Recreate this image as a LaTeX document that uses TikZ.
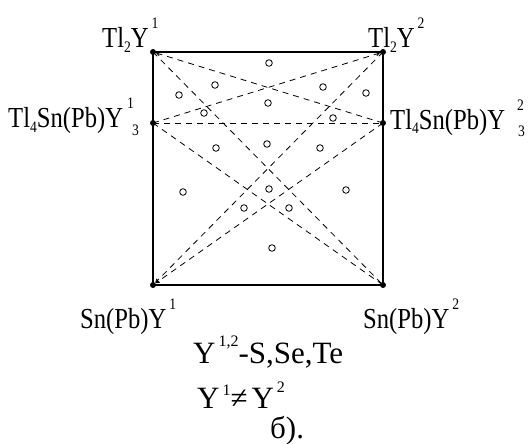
\documentclass[tikz,border=0pt]{standalone}
\usepackage{fontspec}
\setmainfont{Liberation Serif}
\newfontfamily\lblfont{Liberation Serif}[FakeStretch=0.85]
\usetikzlibrary{arrows.meta}
\newcommand\hi[2][19pt]{\hspace{3pt}\raisebox{#1}{\fontsize{16}{16}\selectfont #2}}
\newcommand\lo[1]{\raisebox{-5pt}{\fontsize{16}{16}\selectfont #1}}
\newcommand\hilo[4]{\hspace{#3}\rlap{\raisebox{19pt}{\fontsize{16}{16}\selectfont #1}}\hspace{#4}\raisebox{-8pt}{\fontsize{16}{16}\selectfont #2}}

\begin{document}
\begin{tikzpicture}[
  x=1pt, y=-1pt,
  dot/.style={circle, fill, inner sep=0pt, minimum size=6pt},
  pt/.style={circle, draw, line width=0.8pt, inner sep=0pt, minimum size=6.6pt},
  lbl/.style={anchor=base west, inner sep=0pt, font=\lblfont\fontsize{29}{29}\selectfont},
  txt/.style={anchor=base west, inner sep=0pt, font=\fontsize{31}{31}\selectfont},
  edge/.style={line width=1.2pt},
  tie/.style={line width=0.8pt, dash pattern=on 6pt off 5pt},
  tip/.style={tie, -{Straight Barb[length=3pt, width=3.5pt]}}
]
\useasboundingbox (0,0) rectangle (531,444);

\node[dot] (tl) at (153,52) {};
\node[dot] (tr) at (383,52) {};
\node[dot] (ml) at (153,123) {};
\node[dot] (mr) at (383,123) {};
\node[dot] (bl) at (153,285) {};
\node[dot] (br) at (383,285) {};

\draw[edge] (tl.center) -- (tr.center) -- (mr.center) -- (br.center) -- (bl.center) -- (ml.center) -- cycle;

\draw[tip] (mr.center) -- (tl);
\draw[tip] (ml.center) -- (tr);
\draw[tip] (tr.center) -- (bl);
\draw[tip] (mr.center) -- (bl);
\draw[tie] (ml.center) -- (mr.center);
\draw[tie] (tl.center) -- (br.center);
\draw[tie] (ml.center) -- (br.center);

\foreach \px/\py in {269/63, 215/85, 179/95, 323/87, 366/93, 268/103, 204/113,
  333/118, 216/148, 267/144, 320/148, 183/192, 269/189, 346/190, 244/208,
  289/208, 272/248}
  \node[pt] at (\px,\py) {};

\node[lbl] (tlname) at (102,48) {Tl\lo{2}Y\hi{1}};
\node[lbl] (trname) at (368,48) {Tl\lo{2}Y\hi{2}};
\node[lbl] (mlname) at (8,128) {Tl\lo{4}Sn(Pb)Y\hilo{1}{3}{4pt}{5pt}};
\node[lbl] (mrname) at (390,129) {Tl\lo{4}Sn(Pb)Y\hilo{2}{3}{12pt}{1pt}};
\node[lbl] (blname) at (80,328) {Sn(Pb)Y\hi{1}};
\node[lbl] (brname) at (363,328) {Sn(Pb)Y\hi{2}};

\node[txt] (kinds) at (193,363) {Y\hi[17pt]{1,2}-S,Se,Te};
\node[txt] (neq) at (197,408) {Y\hi[13pt]{1}≠\hspace{4pt}Y\hi[16pt]{2}};
\node[txt] (tag) at (270,438) {б).};
\end{tikzpicture}
\end{document}
